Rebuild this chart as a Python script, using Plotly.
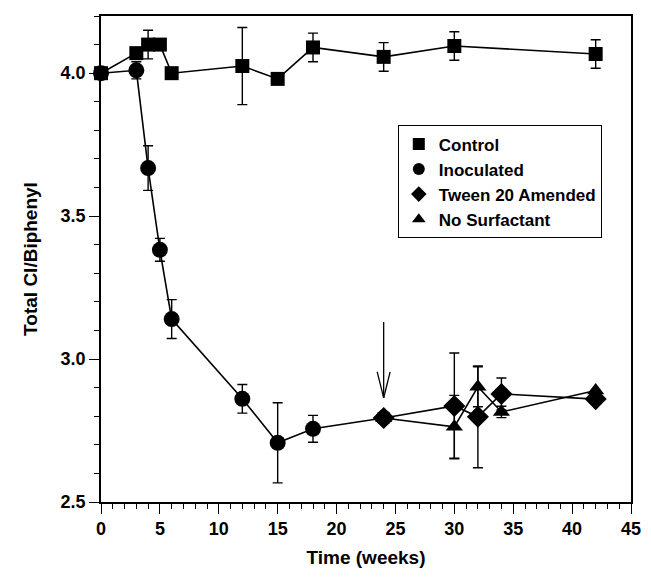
import plotly.graph_objects as go

# ---- data ----
control_x = [0, 3, 4, 5, 6, 12, 15, 18, 24, 30, 42]
control_y = [4.00, 4.07, 4.10, 4.10, 4.00, 4.025, 3.98, 4.09, 4.057, 4.095, 4.067]
control_err = [0, 0, 0.05, 0, 0, 0.135, 0, 0.05, 0.05, 0.05, 0.05]

inoc_x = [0, 3, 4, 5, 6, 12, 15, 18, 24]
inoc_y = [4.00, 4.01, 3.668, 3.382, 3.14, 2.861, 2.707, 2.756, 2.794]
inoc_err = [0, 0.03, 0.078, 0.04, 0.068, 0.05, 0.14, 0.047, 0]

tween_x = [24, 30, 32, 34, 42]
tween_y = [2.794, 2.836, 2.798, 2.878, 2.86]
tween_err = [0, 0.185, 0.178, 0.056, 0]

nosurf_x = [24, 30, 32, 34, 42]
nosurf_y = [2.794, 2.763, 2.903, 2.815, 2.89]
nosurf_err = [0, 0.11, 0.07, 0.02, 0]

series_names = ["Control", "Inoculated", "Tween 20 Amended", "No Surfactant"]
x_ticks = [0, 5, 10, 15, 20, 25, 30, 35, 40, 45]
y_ticks = [2.5, 3.0, 3.5, 4.0]

# arrow marking addition of surfactant
arrow_x = 24
arrow_top = 3.13
arrow_tip = 2.864
arrow_head_y = 2.955
arrow_head_dx = 0.55

FONT = "Arial, Liberation Sans, sans-serif"

symbols = ["square", "circle", "diamond", "triangle-up"]
sizes = [14, 16, 17, 15]

fig = go.Figure()
datasets = [
    (control_x, control_y, control_err),
    (inoc_x, inoc_y, inoc_err),
    (tween_x, tween_y, tween_err),
    (nosurf_x, nosurf_y, nosurf_err),
]
for (xs, ys, es), sym, sz, name in zip(datasets, symbols, sizes, series_names):
    fig.add_trace(go.Scatter(
        x=xs, y=ys, mode="lines+markers", name=name, showlegend=False,
        line=dict(color="black", width=1.6),
        marker=dict(symbol=sym, size=sz, color="black"),
        error_y=dict(type="data", array=es, visible=True, color="black",
                     thickness=1.4, width=5),
        cliponaxis=False,
    ))

# legend-only entries (markers only)
for sym, sz, name in zip(symbols, sizes, series_names):
    fig.add_trace(go.Scatter(
        x=[None], y=[None], mode="markers", name=name,
        marker=dict(symbol=sym, size=sz - 1, color="black"),
    ))

# arrow
for x0, y0 in [(arrow_x, arrow_top), (arrow_x - arrow_head_dx, arrow_head_y),
               (arrow_x + arrow_head_dx, arrow_head_y)]:
    fig.add_shape(type="line", x0=x0, x1=arrow_x, y0=y0, y1=arrow_tip,
                  line=dict(color="black", width=1.3))

fig.update_layout(
    width=643, height=560,
    margin=dict(l=93, r=20, t=8, b=66, autoexpand=False),
    paper_bgcolor="white", plot_bgcolor="white",
    font=dict(family=FONT, color="black"),
    showlegend=True,
    legend=dict(
        x=0.56, y=0.775, xanchor="left", yanchor="top",
        bgcolor="white", bordercolor="black", borderwidth=1,
        font=dict(family=FONT, size=17, color="black", weight="bold"),
        itemsizing="constant", tracegroupgap=0,
    ),
    xaxis=dict(
        range=[0, 45], tickvals=x_ticks, ticktext=[str(v) for v in x_ticks],
        ticks="outside", ticklen=10, tickwidth=1.4, tickcolor="black",
        minor=dict(ticks="outside", dtick=1, ticklen=5, tickwidth=1, tickcolor="black"),
        showline=True, linecolor="black", linewidth=1.5, mirror=True,
        showgrid=False, zeroline=False, automargin=False,
        ticklabeloverflow="allow",
        tickfont=dict(family=FONT, size=18, weight="bold"),
        title=dict(text="Time (weeks)", font=dict(family=FONT, size=19, weight="bold"), standoff=19),
    ),
    yaxis=dict(
        range=[2.5, 4.2], tickvals=y_ticks, ticktext=[f"{v:.1f}" for v in y_ticks],
        ticks="outside", ticklen=10, tickwidth=1.4, tickcolor="black",
        minor=dict(ticks="outside", dtick=0.1, ticklen=5, tickwidth=1, tickcolor="black"),
        showline=True, linecolor="black", linewidth=1.5, mirror=True,
        showgrid=False, zeroline=False, automargin=False,
        tickfont=dict(family=FONT, size=18, weight="bold"),
        title=dict(text="Total Cl/Biphenyl", font=dict(family=FONT, size=19, weight="bold"), standoff=18),
    ),
)

fig.write_html("out.html")
